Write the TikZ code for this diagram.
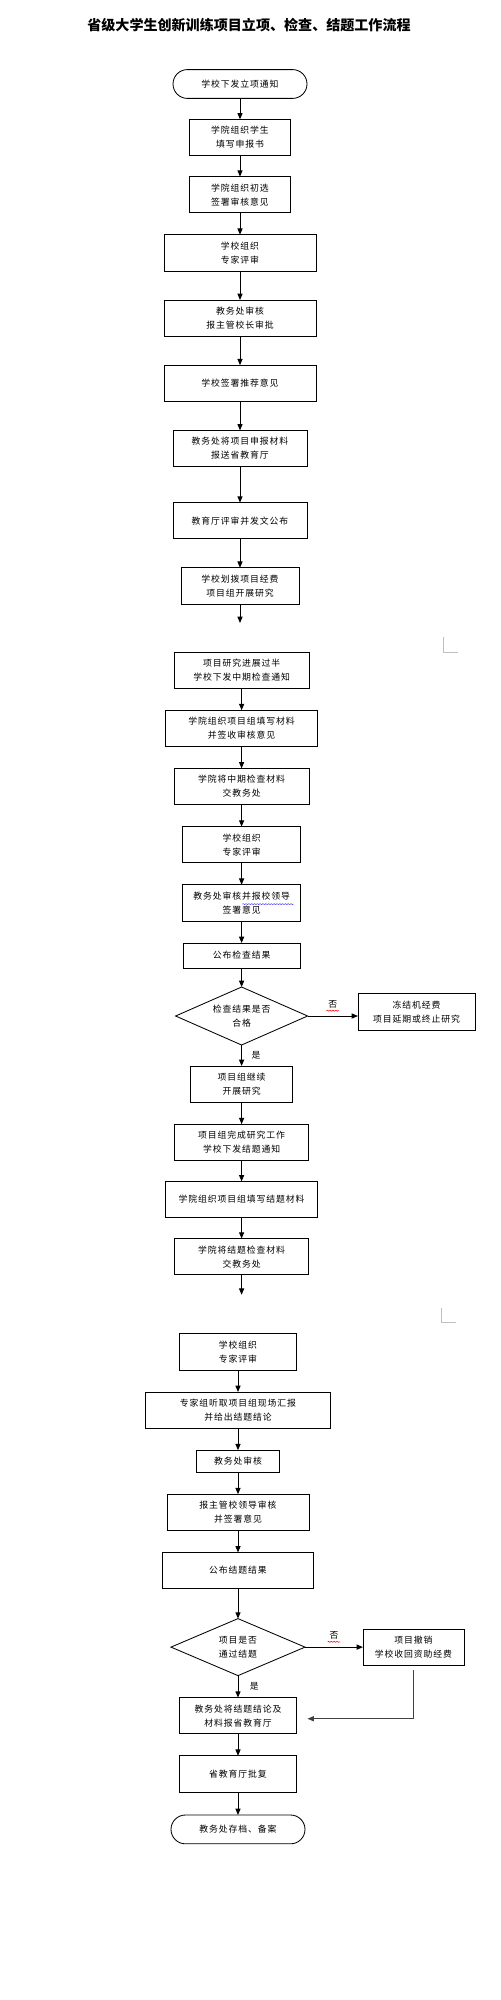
\documentclass[tikz,border=0pt]{standalone}
\usepackage{fontspec}
\setmainfont{Noto Sans CJK SC}[LetterSpace=10]
\newfontfamily\titlefont{Noto Sans CJK SC}
\usepackage{tikz}
\usetikzlibrary{positioning,shapes.geometric,arrows.meta,decorations.pathmorphing}

\begin{document}
\begin{tikzpicture}[
			box/.style={draw, rectangle, line width=0.6pt, outer sep=0pt, minimum height=0.905cm, inner sep=1pt, align=center, font=\fontsize{6.3pt}{10pt}\selectfont},
			term/.style={box, rounded corners=0.36cm, minimum height=0.72cm},
			decision/.style={draw, diamond, aspect=2.3, line width=0.6pt, outer sep=0pt, inner sep=0pt, align=center, font=\fontsize{6.3pt}{10pt}\selectfont},
			lbl/.style={inner sep=1pt, font=\fontsize{6.3pt}{8pt}\selectfont},
			arrow/.style={-{Triangle[length=4.5pt,width=3.6pt]}, line width=0.7pt},
			wavy/.style={line width=0.4pt, decorate, decoration={snake, amplitude=0.35pt, segment length=2pt}},
			node distance=0.55cm
		]
		\useasboundingbox (0,0) rectangle (12.5,-50);
		\node[font=\titlefont\bfseries\fontsize{10pt}{12pt}\selectfont] (title) at (6.225,-0.625) {省级大学生创新训练项目立项、检查、结题工作流程};

		% application
		\node[term, minimum width=3.35cm] (start) at (6,-2.1) {学校下发立项通知};
		\node[box, minimum width=2.525cm, below=0.525cm of start] (b1) {学院组织学生\\填写申报书};
		\node[box, minimum width=2.525cm, below=0.525cm of b1] (b2) {学院组织初选\\签署审核意见};
		\node[box, minimum width=3.8cm, below=of b2] (b3) {学校组织\\专家评审};
		\node[box, minimum width=3.8cm, below=0.725cm of b3] (b4) {教务处审核\\报主管校长审批};
		\node[box, minimum width=3.8cm, below=0.725cm of b4] (b5) {学校签署推荐意见};
		\node[box, minimum width=3.35cm, below=0.725cm of b5] (b6) {教务处将项目申报材料\\报送省教育厅};
		\node[box, minimum width=3.35cm, below=0.9cm of b6] (b7) {教育厅评审并发文公布};
		\node[box, minimum width=2.95cm, below=0.725cm of b7] (b8) {学校划拨项目经费\\项目组开展研究};
		\coordinate[below=0.475cm of b8] (p1);

		% mid-term check
		\node[box, minimum width=3.375cm, below=1.2cm of b8, xshift=0.04cm] (b9) {项目研究进展过半\\学校下发中期检查通知};
		\node[box, minimum width=3.8cm, below=of b9] (b10) {学院组织项目组填写材料\\并签收审核意见};
		\node[box, minimum width=3.375cm, below=of b10] (b11) {学院将中期检查材料\\交教务处};
		\node[box, minimum width=2.95cm, below=of b11] (b12) {学校组织\\专家评审};
		\node[box, minimum width=2.95cm, below=of b12] (b13) {教务处审核并报校领导\\签署意见};
		\node[box, minimum width=2.925cm, minimum height=0.625cm, below=of b13] (b14) {公布检查结果};
		\node[decision, minimum width=3.3cm, minimum height=1.45cm, below=0.475cm of b14] (d1) {检查结果是否\\合格};
		\node[box, minimum width=2.925cm, right=1.26cm of d1, yshift=0.1cm] (r1) {冻结机经费\\项目延期或终止研究};
		\node[box, minimum width=2.55cm, below=0.525cm of d1] (b15) {项目组继续\\开展研究};

		% final check
		\node[box, minimum width=3.35cm, below=of b15] (b16) {项目组完成研究工作\\学校下发结题通知};
		\node[box, minimum width=3.8cm, below=0.525cm of b16] (b17) {学院组织项目组填写结题材料};
		\node[box, minimum width=3.35cm, below=0.525cm of b17] (b18) {学院将结题检查材料\\交教务处};
		\coordinate[below=0.5cm of b18] (p2);
		\node[box, minimum width=2.925cm, below=1.475cm of b18, xshift=-0.09cm] (b19) {学校组织\\专家评审};
		\node[box, minimum width=4.625cm, below=of b19] (b20) {专家组听取项目组现场汇报\\并给出结题结论};
		\node[box, minimum width=2.075cm, minimum height=0.55cm, below=of b20] (b21) {教务处审核};
		\node[box, minimum width=3.55cm, below=of b21] (b22) {报主管校领导审核\\并签署意见};
		\node[box, minimum width=3.775cm, below=of b22] (b23) {公布结题结果};
		\node[decision, minimum width=3.35cm, minimum height=1.425cm, below=0.75cm of b23] (d2) {项目是否\\通过结题};
		\node[box, minimum width=2.525cm, right=1.45cm of d2] (r2) {项目撤销\\学校收回资助经费};
		\node[box, minimum width=2.925cm, below=0.55cm of d2] (b24) {教务处将结题结论及\\材料报省教育厅};
		\node[box, minimum width=2.925cm, below=of b24] (b25) {省教育厅批复};
		\node[term, minimum width=3.35cm, below=0.575cm of b25] (finish) {教务处存档、备案};

		\draw[arrow] (start) -- (b1);
		\draw[arrow] (b1) -- (b2);
		\draw[arrow] (b2) -- (b3);
		\draw[arrow] (b3) -- (b4);
		\draw[arrow] (b4) -- (b5);
		\draw[arrow] (b5) -- (b6);
		\draw[arrow] (b6) -- (b7);
		\draw[arrow] (b7) -- (b8);
		\draw[arrow] (b8) -- (p1);
		\draw[arrow] (b9) -- (b10);
		\draw[arrow] (b10) -- (b11);
		\draw[arrow] (b11) -- (b12);
		\draw[arrow] (b12) -- (b13);
		\draw[arrow] (b13) -- (b14);
		\draw[arrow] (b14) -- (d1);
		\draw[arrow] (d1.east) -- node[lbl, above=0.15cm] (no1) {否} (d1.east -| r1.west);
		\draw[arrow] (d1) -- node[lbl, right=0.2cm] (yes1) {是} (b15);
		\draw[arrow] (b15) -- (b16);
		\draw[arrow] (b16) -- (b17);
		\draw[arrow] (b17) -- (b18);
		\draw[arrow] (b18) -- (p2);
		\draw[arrow] (b19) -- (b20);
		\draw[arrow] (b20) -- (b21);
		\draw[arrow] (b21) -- (b22);
		\draw[arrow] (b22) -- (b23);
		\draw[arrow] (b23) -- (d2);
		\draw[arrow] (d2.east) -- node[lbl, above=0.15cm] (no2) {否} (d2.east -| r2.west);
		\draw[arrow] (d2) -- node[lbl, right=0.25cm] (yes2) {是} (b24);
		\draw[arrow, black!75] ([yshift=-0.125cm]r2.south) |- ([xshift=0.275cm, yshift=-0.075cm]b24.east);
		\draw[arrow] (b24) -- (b25);
		\draw[arrow] (b25) -- (finish);

		% spell-check marks
		\draw[wavy, red] ([yshift=-0.5pt]no1.south west) -- ([yshift=-0.5pt]no1.south east);
		\draw[wavy, red] ([yshift=-0.5pt]no2.south west) -- ([yshift=-0.5pt]no2.south east);
		\draw[wavy, blue!70] ([xshift=0.02cm, yshift=-0.03cm]b13.center) -- ([xshift=1.3cm, yshift=-0.03cm]b13.center);

		% page corner marks
		\draw[gray!50, line width=0.4pt] (11.075,-15.925) |- (11.45,-16.3);
		\draw[gray!50, line width=0.4pt] (11.025,-32.7) |- (11.4,-33.05);
	\end{tikzpicture}
\end{document}
